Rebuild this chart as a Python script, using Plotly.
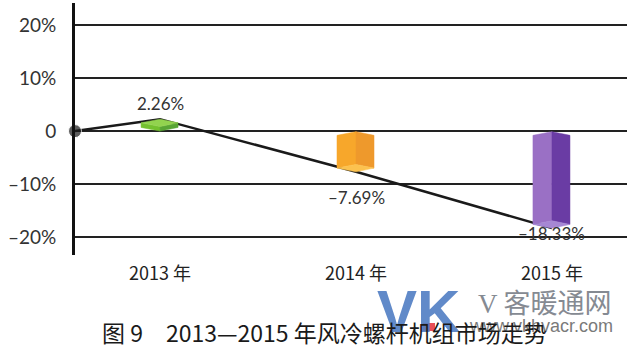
import plotly.graph_objects as go

# ---------------- data ----------------
years = ["2013 年", "2014 年", "2015 年"]
growth = [2.26, -7.69, -18.33]          # market growth, %
y_tick_vals = [-20, -10, 0, 10, 20]
y_tick_text = ["–20%", "–10%", "0", "10%", "20%"]
caption = "图 9　2013—2015 年风冷螺杆机组市场走势"

# ---------------- style ----------------
W, H = 638, 356
M_L, M_R, M_T, M_B = 75, 11, 3, 101
PW, PH = W - M_L - M_R, H - M_T - M_B
X_MIN, X_MAX = -0.434, 2.383
Y_MIN, Y_MAX = -23.4, 24.2
DX_L, DX_R = 0.097, 0.092      # widths of the two side faces (x units)
HH = 0.7                       # half height of the cap rhombus (y units)
TOP_GAP = 0.1
face_colors = [                # (left face, right face, cap face)
    ("#74c12f", "#59a534", "#92d34e"),
    ("#f7a72b", "#ee992c", "#fcc24f"),
    ("#9a70c5", "#6a3ca4", "#a687d4"),
]
label_shift = [16, -26, -5]
TXT = "#333333"


def px(x):
    return (x - M_L) / PW


def py(y):
    return (H - M_B - y) / PH


fig = go.Figure()

# trend line (drawn behind cubes), starting at the origin on the y axis
idx = list(range(len(years)))
fig.add_trace(go.Scatter(
    x=[X_MIN] + idx, y=[0] + growth,
    mode="lines+markers",
    line=dict(color="#1a1a1a", width=2.5),
    marker=dict(size=[13] + [0] * len(idx), color="#1a1a1a"),
    cliponaxis=False, hoverinfo="skip", showlegend=False,
))


def cube(c, v):
    cl, cr = c - DX_L, c + DX_R
    if v >= 0:
        b = 0.0
        left = [(cl, b + HH), (c, b), (c, v - 2 * HH), (cl, v - HH)]
        right = [(c, b), (cr, b + HH), (cr, v - HH), (c, v - 2 * HH)]
        cap = [(cl, v - HH), (c, v - 2 * HH), (cr, v - HH), (c, v)]
    else:
        t = -TOP_GAP
        left = [(cl, t - HH), (c, t), (c, v + 2 * HH), (cl, v + HH)]
        right = [(c, t), (cr, t - HH), (cr, v + HH), (c, v + 2 * HH)]
        cap = [(cl, v + HH), (c, v + 2 * HH), (cr, v + HH), (c, v)]
    return left, right, cap


for i, v in enumerate(growth):
    for poly, col in zip(cube(i, v), face_colors[i]):
        xs = [p[0] for p in poly] + [poly[0][0]]
        ys = [p[1] for p in poly] + [poly[0][1]]
        fig.add_trace(go.Scatter(
            x=xs, y=ys, mode="lines", fill="toself",
            fillcolor=col, line=dict(width=0.5, color=col),
            hoverinfo="skip", showlegend=False,
        ))

annotations = []
# value labels
for i, v in enumerate(growth):
    annotations.append(dict(
        x=i, y=v, xref="x", yref="y",
        text=f"{v:.2f}%".replace("-", "–"),
        showarrow=False, yshift=label_shift[i],
        xanchor="center", yanchor="middle",
        font=dict(family="Lato", size=17, color=TXT),
    ))

# watermark
annotations.append(dict(
    x=px(418), y=py(311), xref="paper", yref="paper",
    text="<b>VK</b>", showarrow=False, xanchor="center", yanchor="middle",
    font=dict(family="Liberation Sans", size=60, color="rgba(80,125,195,0.9)"),
))
annotations.append(dict(
    x=px(545), y=py(301), xref="paper", yref="paper",
    text="<span style='font-family:Liberation Serif'>V</span> 客暖通网",
    showarrow=False, xanchor="center", yanchor="middle",
    font=dict(family="Noto Sans CJK SC", size=27, color="#858a92"),
))
annotations.append(dict(
    x=px(541), y=py(326), xref="paper", yref="paper",
    text="www.vkhvacr.com", showarrow=False, xanchor="center", yanchor="middle",
    font=dict(family="Liberation Sans", size=18, color="#7a7a7a"),
))
# caption
annotations.append(dict(
    x=px(324), y=py(332), xref="paper", yref="paper",
    text=caption, showarrow=False, xanchor="center", yanchor="middle",
    font=dict(family="Noto Sans CJK SC", size=23, color="#1a1a1a"),
))

fig.update_layout(
    width=W, height=H,
    margin=dict(l=M_L, r=M_R, t=M_T, b=M_B, autoexpand=False),
    paper_bgcolor="white", plot_bgcolor="white",
    showlegend=False,
    annotations=annotations,
    shapes=[dict(
        type="rect", xref="paper", yref="paper",
        x0=px(423), x1=px(435), y0=py(331), y1=py(323),
        fillcolor="rgba(230,60,70,0.9)", line=dict(width=0), layer="below",
    )],
    xaxis=dict(
        range=[X_MIN, X_MAX], showgrid=False, zeroline=False, showline=False,
        tickvals=idx, ticktext=years, ticks="", ticklabelstandoff=6,
        tickfont=dict(family="Noto Sans CJK SC", size=18, color="#222222"),
        fixedrange=True,
    ),
    yaxis=dict(
        range=[Y_MIN, Y_MAX], tickvals=y_tick_vals, ticktext=y_tick_text,
        showgrid=True, gridcolor="#222222", gridwidth=2,
        zeroline=False, showline=True, linecolor="#111111", linewidth=3,
        ticks="", ticklabelstandoff=12,
        tickfont=dict(family="Lato", size=19, color=TXT),
        fixedrange=True,
    ),
)

fig.write_html(
    "out.html",
    config={"displayModeBar": False},
    post_script="document.body.style.margin='0px';",
)
